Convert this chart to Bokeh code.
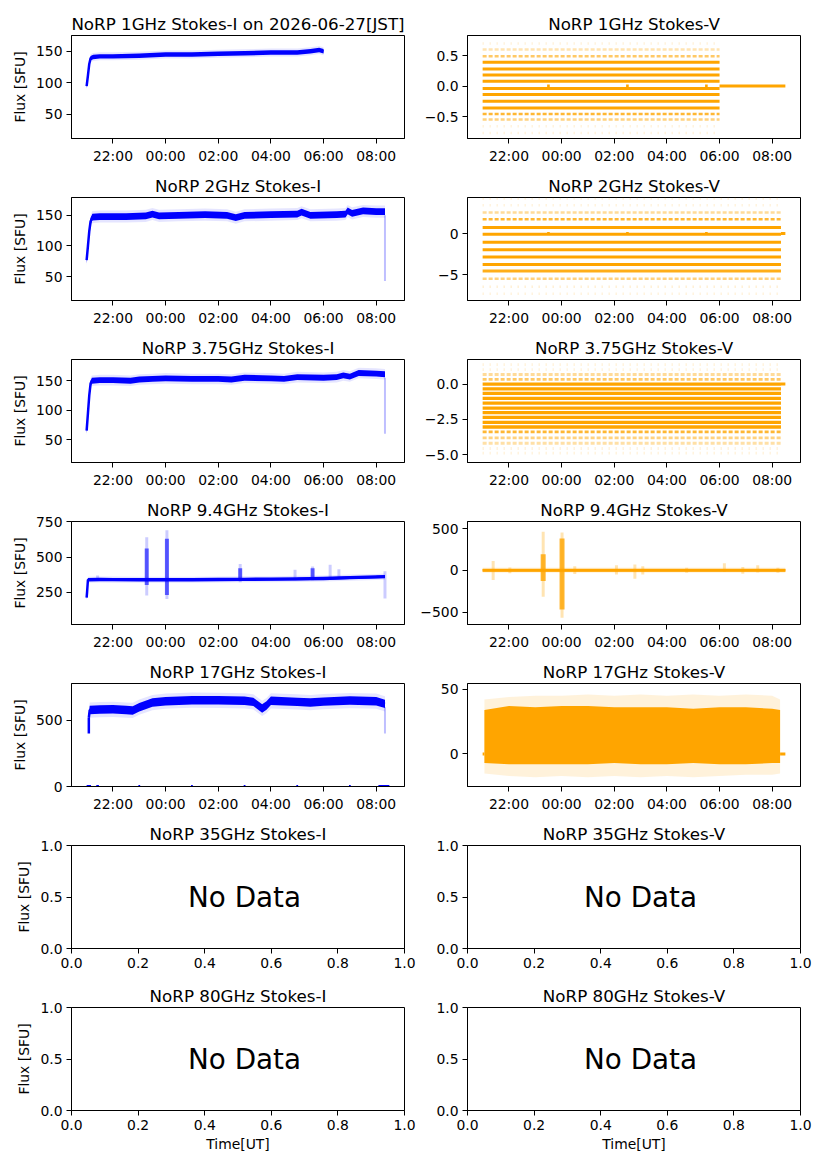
#!/usr/bin/env python

import numpy as np

from bokeh.plotting import figure
from bokeh.layouts import gridplot
from bokeh.models import Range1d, FixedTicker, ColumnDataSource
from bokeh.core.properties import value
from bokeh.resources import INLINE
from bokeh.embed import file_html

BLUE = "#0000ff"
ORANGE = "#ffa500"
FONT = "DejaVu Sans"

DATE_JST = "2026-06-27"

# UT time axis, the observation runs 21:00 -> 08:30
T_START = "21:00"
T_END = "08:30"
X_TICKS = ["22:00", "00:00", "02:00", "04:00", "06:00", "08:00"]

NODATA_XTICKS = [0.0, 0.2, 0.4, 0.6, 0.8, 1.0]
NODATA_XLABELS = ["0.0", "0.2", "0.4", "0.6", "0.8", "1.0"]
NODATA_YTICKS = [0.0, 0.5, 1.0]
NODATA_YLABELS = ["0.0", "0.5", "1.0"]
NODATA_BANDS = ["35GHz", "80GHz"]

I_TICKS = [50, 100, 150]
I_LABELS = ["50", "100", "150"]

# ---- 1 GHz ----
I1_T = ["21:00", "21:03", "21:06", "21:09", "21:15", "21:30", "22:00", "23:00", "00:00",
        "01:00", "02:00", "03:00", "04:00", "05:00", "05:30", "05:50", "06:00"]
I1_FLUX = [95, 112, 130, 139, 141, 142, 142, 143, 145, 145, 146, 147, 148, 148, 150, 152, 150]
I1_NOISE = 3.5
I1_YLIM = (12, 175)

V1_LEVELS = [0.70, 0.60, 0.49, 0.39, 0.28, 0.18, 0.08, -0.04, -0.14, -0.25, -0.36, -0.46, -0.55, -0.66, -0.77]
V1_OCCUPANCY = [0.1, 0.3, 0.6, 1, 1, 1, 1, 1, 1, 1, 1, 0.8, 0.5, 0.2, 0.05]
V1_SPAN = ["21:00", "06:00"]
V1_ZERO_START = ["06:00", "23:27", "02:27", "05:27"]
V1_ZERO_END = ["08:30", "23:33", "02:33", "05:33"]
V1_YLIM = (-0.86, 0.83)
V1_TICKS = [-0.5, 0.0, 0.5]
V1_LABELS = ["\u22120.5", "0.0", "0.5"]

# ---- 2 GHz ----
I2_T = ["21:00", "21:03", "21:06", "21:09", "21:13", "21:30", "22:30", "23:15", "23:30", "23:45",
        "00:30", "01:30", "02:20", "02:40", "03:00", "04:00", "05:00", "05:10", "05:30", "06:30",
        "06:50", "06:55", "07:05", "07:30", "08:00", "08:20"]
I2_FLUX = [77, 100, 124, 140, 147, 148, 148, 149, 152, 149,
           150, 151, 150, 146, 150, 151, 152, 155, 150, 151,
           152, 157, 153, 157, 156, 156]
I2_NOISE = 5.5
I2_TAIL_T = ["08:20"]
I2_TAIL_LO = [43]
I2_TAIL_HI = [150]
I2_YLIM = (11, 179)

V2_LEVELS = [4.27, 3.46, 2.56, 1.75, 0.73, -0.08, -1.06, -1.95, -2.85, -3.74, -4.55, -5.49, -6.46, -7.30]
V2_OCCUPANCY = [0.03, 0.15, 0.4, 0.8, 1, 1, 1, 1, 1, 1, 0.9, 0.5, 0.25, 0.05]
V2_SPAN = ["21:00", "08:20"]
V2_ZERO_START = ["08:20", "23:27", "02:27", "05:27"]
V2_ZERO_END = ["08:30", "23:33", "02:33", "05:33"]
V2_YLIM = (-8.13, 4.39)
V2_TICKS = [-5, 0]
V2_LABELS = ["\u22125", "0"]

# ---- 3.75 GHz ----
I3_T = ["21:00", "21:03", "21:06", "21:09", "21:12", "21:30", "22:00", "22:40", "23:00", "23:30",
        "00:00", "01:00", "02:00", "02:30", "03:00", "04:00", "04:30", "05:00", "06:00", "06:30",
        "06:45", "07:00", "07:20", "08:00", "08:20"]
I3_FLUX = [65, 95, 125, 145, 150, 151, 151, 150, 152, 153,
           154, 153, 153, 152, 155, 154, 153, 156, 155, 156,
           159, 157, 163, 162, 161]
I3_NOISE = 5
I3_TAIL_T = ["08:20"]
I3_TAIL_LO = [60]
I3_TAIL_HI = [155]
I3_YLIM = (11, 186)

V3_LEVELS = [1.38, 1.03, 0.68, 0.33, 0.00, -0.33, -0.66, -1.01, -1.34, -1.69, -2.02, -2.35,
             -2.70, -3.03, -3.38, -3.80, -4.18, -4.55, -4.88]
V3_OCCUPANCY = [0.1, 0.2, 0.4, 0.6, 1, 1, 1, 1, 1, 1, 1, 1, 1, 1, 0.8, 0.5, 0.35, 0.1, 0.05]
V3_SPAN = ["21:00", "08:20"]
V3_ZERO_START = ["08:20"]
V3_ZERO_END = ["08:30"]
V3_YLIM = (-5.54, 1.74)
V3_TICKS = [-5.0, -2.5, 0.0]
V3_LABELS = ["\u22125.0", "\u22122.5", "0.0"]

# ---- 9.4 GHz ----
I9_T = ["21:00", "21:01", "21:03", "21:30", "22:00", "23:00", "00:00", "01:00",
        "02:00", "03:00", "04:00", "05:00", "06:00", "07:00", "08:00", "08:20"]
I9_FLUX = [210, 250, 338, 340, 339, 338, 338, 338, 340, 341, 342, 344, 347, 353, 358, 360]
I9_NOISE = 12
I9_SPREAD_T = ["21:25", "23:17", "00:03", "02:50", "04:55", "05:35", "06:15", "06:35", "08:20"]
I9_SPREAD_LO = [330, 225, 200, 320, 335, 335, 340, 345, 205]
I9_SPREAD_HI = [368, 640, 690, 450, 410, 432, 445, 412, 398]
I9_CORE_T = ["23:17", "00:03", "02:50", "05:35"]
I9_CORE_LO = [300, 230, 330, 340]
I9_CORE_HI = [560, 630, 420, 420]
I9_YLIM = (19, 753)
I9_TICKS = [250, 500, 750]
I9_LABELS = ["250", "500", "750"]

V9_T = ["21:00", "08:30"]
V9_FLUX = [0, 0]
V9_NOISE = 18
V9_SPREAD_T = ["21:24", "22:02", "23:18", "00:01", "00:30", "02:05", "02:47",
               "03:05", "04:45", "06:11", "06:53", "07:27", "08:13"]
V9_SPREAD_LO = [-116, -35, -316, -568, -45, -50, -100, -50, -30, -20, -40, -25, -30]
V9_SPREAD_HI = [112, 35, 460, 452, 50, 60, 70, 50, 30, 84, 40, 60, 30]
V9_CORE_T = ["23:18", "00:01"]
V9_CORE_LO = [-128, -468]
V9_CORE_HI = [192, 380]
V9_YLIM = (-648, 584)
V9_TICKS = [-500, 0, 500]
V9_LABELS = ["\u2212500", "0", "500"]

# ---- 17 GHz ----
I17_T = ["21:05", "21:07", "21:30", "22:00", "22:30", "22:45", "23:00", "23:30", "00:00", "01:00",
         "02:00", "03:00", "03:20", "03:40", "03:50", "04:00", "05:00", "05:30", "06:00", "07:00",
         "08:00", "08:20"]
I17_FLUX = [520, 578, 582, 584, 578, 575, 600, 635, 645, 653,
            652, 648, 640, 590, 612, 648, 640, 635, 642, 650,
            645, 625]
I17_NOISE = 32
I17_CORE_T = ["21:05"]
I17_CORE_LO = [400]
I17_CORE_HI = [520]
I17_TAIL_T = ["08:20"]
I17_TAIL_LO = [400]
I17_TAIL_HI = [600]
I17_ZERO_START = ["21:00", "21:22", "22:58", "00:58", "02:58", "04:58", "06:58", "08:05"]
I17_ZERO_END = ["21:10", "21:28", "23:02", "01:02", "03:02", "05:02", "07:02", "08:30"]
I17_YLIM = (0, 779)
I17_TICKS = [0, 500]
I17_LABELS = ["0", "500"]

V17_T = ["21:04", "22:00", "23:00", "00:00", "01:00", "02:00", "03:00",
         "04:00", "05:00", "06:00", "07:00", "08:00", "08:18"]
V17_UPPER = [34, 37, 36, 37, 37, 36, 36, 36, 35, 36, 36, 35, 34]
V17_LOWER = [-7, -8, -8, -8, -8, -7, -8, -8, -7, -8, -8, -7, -7]
V17_HALO_UPPER = [42, 44, 45, 45, 46, 45, 46, 45, 46, 45, 46, 45, 42]
V17_HALO_LOWER = [-15, -17, -18, -17, -18, -17, -18, -17, -18, -17, -16, -16, -15]
V17_ZERO_START = ["21:00", "08:18"]
V17_ZERO_END = ["21:04", "08:30"]
V17_YLIM = (-25.1, 54.4)
V17_TICKS = [0, 50]
V17_LABELS = ["0", "50"]


def hours(hhmm):
    '''UT "HH:MM" -> hours since 2026-06-26 00:00 UT'''
    h, m = hhmm.split(":")
    h = int(h) + int(m) / 60.
    # morning hours are on the next UT day
    if h < 12:
        h += 24.
    return h


def hrs(times):
    return [hours(t) for t in times]


def tick_key(t):
    return int(t) if float(t).is_integer() else t


def set_ticks(axis, ticks, labels):
    axis.ticker = FixedTicker(ticks=list(ticks))
    axis.major_label_overrides = {tick_key(t): l for t, l in zip(ticks, labels)}


def new_panel(title, col, first, last, x_range, y_range):
    # page template has no body margin, so the 8px page margin is in the borders
    left_border = 71 if col == 0 else 51
    right_border = 12 if col == 0 else 19
    top_border = 35 if first else 27
    bottom_border = 50 if last else 32
    p = figure(
        width=left_border + 333 + right_border,
        height=top_border + 103 + bottom_border,
        x_range=x_range,
        y_range=y_range,
        min_border_left=left_border,
        min_border_right=right_border,
        min_border_top=top_border,
        min_border_bottom=bottom_border,
        tools="",
        toolbar_location=None,
        output_backend="svg",
        title=title,
        )
    p.title.align = "center"
    p.title.text_font = FONT
    p.title.text_font_size = "16.7px"
    p.title.text_font_style = "normal"
    p.title.text_color = "black"
    p.title.standoff = 4

    p.outline_line_color = "black"
    p.outline_line_alpha = 1.0
    p.outline_line_width = 1
    p.xgrid.visible = False
    p.ygrid.visible = False

    for ax in (p.xaxis[0], p.yaxis[0]):
        ax.axis_line_color = "black"
        ax.major_tick_line_color = "black"
        ax.major_tick_out = 5
        ax.major_tick_in = 0
        ax.minor_tick_line_color = None
        ax.major_label_text_font = FONT
        ax.major_label_text_font_size = "13.9px"
        ax.major_label_text_color = "black"
        ax.major_label_standoff = 4
        ax.axis_label_text_font = FONT
        ax.axis_label_text_font_size = "13.9px"
        ax.axis_label_text_font_style = "normal"
        ax.axis_label_text_color = "black"
        ax.axis_label_standoff = 5

    if col == 0:
        p.yaxis.axis_label = "Flux [SFU]"
    if last:
        p.xaxis.axis_label = "Time[UT]"
        p.xaxis.axis_label_standoff = 3
    return p


def time_panel(title, col, ylim, yticks, ylabels, first=False):
    pad = 0.05 * (hours(T_END) - hours(T_START))
    x_range = Range1d(hours(T_START) - pad, hours(T_END) + pad)
    p = new_panel(title, col, first, False, x_range, Range1d(*ylim))
    set_ticks(p.xaxis[0], hrs(X_TICKS), X_TICKS)
    set_ticks(p.yaxis[0], yticks, ylabels)
    return p


def nodata_panel(title, col, last):
    p = new_panel(title, col, False, last, Range1d(0, 1), Range1d(0, 1))
    set_ticks(p.xaxis[0], NODATA_XTICKS, NODATA_XLABELS)
    set_ticks(p.yaxis[0], NODATA_YTICKS, NODATA_YLABELS)
    p.text(x=[0.35], y=[0.5], text=["No Data"],
           text_font=value(FONT), text_font_size="27.8px",
           text_color="black", text_align="left", text_baseline="middle")
    return p


def draw_flux(p, times, flux, noise, color):
    x = hrs(times)
    f = np.array(flux, dtype=float)
    # faint scatter around the dense trace
    p.varea(x=x, y1=f - 1.8 * noise, y2=f + 1.8 * noise, fill_color=color, fill_alpha=0.1)
    p.varea(x=x, y1=f - noise, y2=f + noise, fill_color=color, fill_alpha=1.0)
    p.line(x, f, line_color=color, line_width=2.5)


def draw_spread(p, times, lo, hi, color, width, alpha):
    x = hrs(times)
    p.segment(x0=x, y0=lo, x1=x, y1=hi, line_color=color, line_width=width, line_alpha=alpha)


def draw_zero(p, starts, ends, color, width=3):
    n = len(starts)
    p.segment(x0=hrs(starts), y0=[0] * n, x1=hrs(ends), y1=[0] * n,
              line_color=color, line_width=width)


def draw_levels(p, levels, occupancy, span, width=3):
    '''digitised Stokes-V: each quantisation level is a horizontal streak'''
    t0, t1 = hours(span[0]), hours(span[1])
    groups = [
        (lambda d: d >= 0.9, "solid"),
        (lambda d: 0.3 <= d < 0.9, "4 2"),
        (lambda d: d < 0.3, "1 6"),
        ]
    for test, dash in groups:
        ys = [y for y, d in zip(levels, occupancy) if test(d)]
        alphas = [max(min(d, 1.0), 0.2) for d in occupancy if test(d)]
        if not ys:
            continue
        src = ColumnDataSource(data={
            'x0': [t0] * len(ys), 'x1': [t1] * len(ys), 'y': ys, 'a': alphas})
        p.segment(x0='x0', y0='y', x1='x1', y1='y', source=src,
                  line_color=ORANGE, line_width=width if dash == "solid" else width - 0.5,
                  line_alpha='a', line_dash=dash)


# ---- build panels ----
i1 = time_panel("NoRP 1GHz Stokes-I on {}[JST]".format(DATE_JST), 0, I1_YLIM, I_TICKS, I_LABELS,
                first=True)
draw_flux(i1, I1_T, I1_FLUX, I1_NOISE, BLUE)
v1 = time_panel("NoRP 1GHz Stokes-V", 1, V1_YLIM, V1_TICKS, V1_LABELS, first=True)
draw_levels(v1, V1_LEVELS, V1_OCCUPANCY, V1_SPAN)
draw_zero(v1, V1_ZERO_START, V1_ZERO_END, ORANGE)

i2 = time_panel("NoRP 2GHz Stokes-I", 0, I2_YLIM, I_TICKS, I_LABELS)
draw_spread(i2, I2_TAIL_T, I2_TAIL_LO, I2_TAIL_HI, BLUE, 2, 0.25)
draw_flux(i2, I2_T, I2_FLUX, I2_NOISE, BLUE)
v2 = time_panel("NoRP 2GHz Stokes-V", 1, V2_YLIM, V2_TICKS, V2_LABELS)
draw_levels(v2, V2_LEVELS, V2_OCCUPANCY, V2_SPAN)
draw_zero(v2, V2_ZERO_START, V2_ZERO_END, ORANGE)

i3 = time_panel("NoRP 3.75GHz Stokes-I", 0, I3_YLIM, I_TICKS, I_LABELS)
draw_spread(i3, I3_TAIL_T, I3_TAIL_LO, I3_TAIL_HI, BLUE, 2, 0.25)
draw_flux(i3, I3_T, I3_FLUX, I3_NOISE, BLUE)
v3 = time_panel("NoRP 3.75GHz Stokes-V", 1, V3_YLIM, V3_TICKS, V3_LABELS)
draw_levels(v3, V3_LEVELS, V3_OCCUPANCY, V3_SPAN, width=3.3)
draw_zero(v3, V3_ZERO_START, V3_ZERO_END, ORANGE)

i9 = time_panel("NoRP 9.4GHz Stokes-I", 0, I9_YLIM, I9_TICKS, I9_LABELS)
draw_spread(i9, I9_SPREAD_T, I9_SPREAD_LO, I9_SPREAD_HI, BLUE, 3, 0.2)
draw_spread(i9, I9_CORE_T, I9_CORE_LO, I9_CORE_HI, BLUE, 4, 0.6)
draw_flux(i9, I9_T, I9_FLUX, I9_NOISE, BLUE)
v9 = time_panel("NoRP 9.4GHz Stokes-V", 1, V9_YLIM, V9_TICKS, V9_LABELS)
draw_spread(v9, V9_SPREAD_T, V9_SPREAD_LO, V9_SPREAD_HI, ORANGE, 3, 0.3)
draw_spread(v9, V9_CORE_T, V9_CORE_LO, V9_CORE_HI, ORANGE, 5, 0.8)
draw_flux(v9, V9_T, V9_FLUX, V9_NOISE, ORANGE)

i17 = time_panel("NoRP 17GHz Stokes-I", 0, I17_YLIM, I17_TICKS, I17_LABELS)
draw_spread(i17, I17_TAIL_T, I17_TAIL_LO, I17_TAIL_HI, BLUE, 2, 0.25)
draw_spread(i17, I17_CORE_T, I17_CORE_LO, I17_CORE_HI, BLUE, 2.5, 1.0)
draw_flux(i17, I17_T, I17_FLUX, I17_NOISE, BLUE)
draw_zero(i17, I17_ZERO_START, I17_ZERO_END, BLUE)
v17 = time_panel("NoRP 17GHz Stokes-V", 1, V17_YLIM, V17_TICKS, V17_LABELS)
x17 = hrs(V17_T)
v17.varea(x=x17, y1=V17_HALO_LOWER, y2=V17_HALO_UPPER, fill_color=ORANGE, fill_alpha=0.14)
v17.varea(x=x17, y1=V17_LOWER, y2=V17_UPPER, fill_color=ORANGE, fill_alpha=1.0)
draw_zero(v17, V17_ZERO_START, V17_ZERO_END, ORANGE)

rows = [[i1, v1], [i2, v2], [i3, v3], [i9, v9], [i17, v17]]
for k, band in enumerate(NODATA_BANDS):
    last = k == len(NODATA_BANDS) - 1
    rows.append([
        nodata_panel("NoRP {} Stokes-I".format(band), 0, last),
        nodata_panel("NoRP {} Stokes-V".format(band), 1, last),
        ])

p = gridplot(rows, toolbar_location=None)

open("out.html", "w").write(file_html(p, INLINE, "NoRP"))
